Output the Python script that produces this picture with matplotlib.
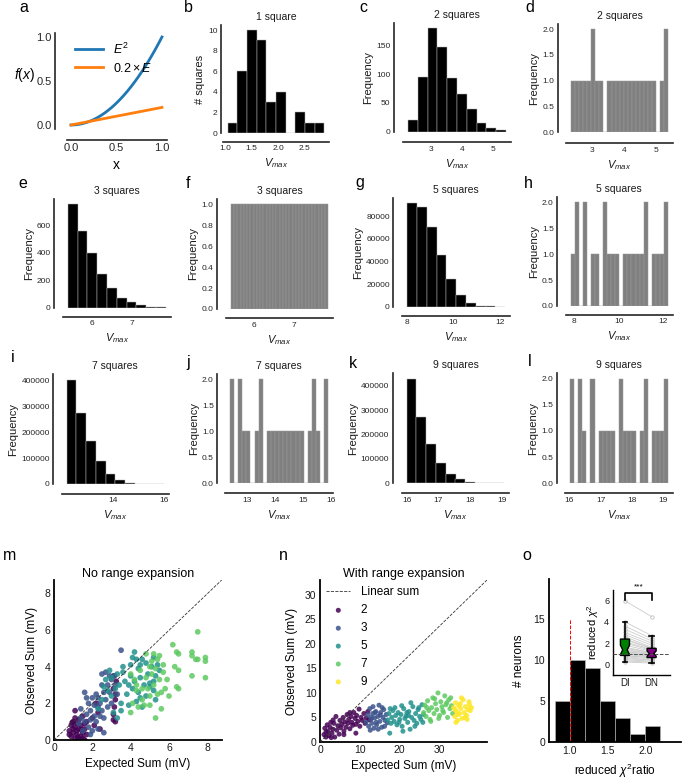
import numpy as np
import matplotlib
matplotlib.use("Agg")
import matplotlib.pyplot as plt
from matplotlib import cm

plt.rcParams['font.family'] = ['Liberation Sans', 'DejaVu Sans']
plt.rcParams['mathtext.fontset'] = 'custom'
plt.rcParams['mathtext.rm'] = 'Liberation Sans'
plt.rcParams['mathtext.it'] = 'Liberation Sans:italic'
plt.rcParams['mathtext.bf'] = 'Liberation Sans:bold'
plt.rcParams['axes.linewidth'] = 1.1

# ---------------- data ----------------
a_E = np.linspace(0, 1, 101)

b_counts = [1, 6, 10, 9, 3, 4, 0, 2, 1, 1]
b_range = (1.056, 2.86)
c_counts = [20, 95, 180, 148, 93, 65, 40, 15, 6, 3]
c_range = (2.26, 5.42)
e_counts = [756, 563, 402, 244, 141, 71, 39, 17, 4, 2]
e_range = (5.39, 7.87)
g_counts = [91200, 88200, 70300, 45300, 24100, 10600, 3500, 900, 200, 30]
g_range = (8.03, 12.2)
i_counts = [405000, 275000, 165000, 89600, 39000, 15600, 4000, 1000, 150, 20]
i_range = (12.2, 16.0)
k_counts = [430000, 274000, 160000, 85000, 40000, 16400, 5000, 1000, 150, 20]
k_range = (16.0, 19.07)

d_counts = [1, 1, 1, 1, 1, 2, 1, 1, 0, 1, 1, 1, 1, 1, 1, 1, 1, 1, 1, 1, 1, 0, 1, 2]
d_range = (2.355, 5.386)
f_counts = [1, 1, 1, 1, 1, 1, 1, 1, 1, 1, 1, 1, 1, 1, 1, 1, 1, 1, 1, 1, 1, 1, 1, 1,
            1, 1, 1, 1, 1, 1]
f_range = (5.42, 7.85)
h_counts = [1, 2, 0, 2, 0, 1, 1, 0, 2, 1, 1, 1, 0, 1, 1, 1, 1, 1, 2, 0, 1, 1, 1, 2]
h_range = (7.85, 12.2)
j_counts = [2, 0, 2, 1, 1, 0, 1, 2, 0, 1, 1, 1, 1, 1, 1, 1, 1, 1, 0, 1, 2, 1, 0, 2]
j_range = (12.37, 15.9)
l_counts = [2, 0, 2, 1, 0, 2, 0, 1, 1, 1, 1, 0, 2, 1, 1, 1, 0, 1, 2, 0, 1, 1, 1, 2]
l_range = (16.02, 19.16)

square_groups = [2, 3, 5, 7, 9]

m_pts_2 = [(0.8, 0.3), (0.8, 0.5), (0.9, 0.8), (0.9, 0.2), (1.0, 1.0), (1.0, 0.6), (1.0, 0.4),
           (1.1, 0.1), (1.1, 0.7), (1.1, 1.2), (1.2, 0.9), (1.2, 0.3), (1.2, 0.5), (1.3, 0.0),
           (1.3, 1.1), (1.3, 0.6), (1.4, 0.2), (1.4, 0.8), (1.5, 0.4), (1.5, 1.3), (1.5, 0.1),
           (1.6, 0.9), (1.6, 0.6), (1.6, 0.0), (1.7, 1.0), (1.7, 0.3), (1.1, 1.6), (0.95, 0.95),
           (1.25, 0.15), (1.45, 0.55), (2.0, 1.2), (2.1, 0.8), (2.2, 2.0), (2.3, 1.5), (2.4, 0.6),
           (3.1, 1.1), (3.1, 1.4), (3.15, 1.8), (3.2, 2.2), (3.2, 2.5), (3.1, 2.8), (3.2, 1.0),
           (3.25, 3.2), (3.15, 3.5)]
m_pts_3 = [(1.3, 0.9), (1.4, 1.2), (1.5, 0.5), (1.6, 1.0), (1.7, 1.4), (1.6, 2.6), (1.7, 2.3),
           (1.8, 2.0), (1.8, 0.7), (1.9, 1.1), (1.9, 1.6), (2.0, 2.3), (2.0, 0.5), (2.1, 1.3),
           (2.1, 1.9), (2.2, 2.5), (2.2, 1.0), (2.3, 1.8), (2.3, 2.3), (2.4, 1.3), (2.4, 2.0),
           (2.5, 3.0), (2.5, 1.6), (2.5, 3.6), (2.6, 2.6), (2.6, 1.2), (2.7, 3.7), (2.7, 2.2),
           (2.8, 3.0), (2.8, 1.8), (2.9, 3.5), (2.9, 2.6), (3.0, 3.3), (3.0, 2.0), (3.1, 3.5),
           (3.2, 3.0), (3.3, 2.5), (3.5, 4.9), (1.4, 1.7), (1.9, 0.3), (2.3, 0.6), (2.6, 0.4)]
m_pts_5 = [(2.3, 1.7), (2.5, 2.2), (2.6, 2.9), (2.7, 3.3), (2.8, 2.7), (3.0, 3.4), (3.0, 2.4),
           (3.2, 2.8), (3.3, 3.6), (3.4, 3.0), (3.5, 2.0), (3.5, 1.6), (3.6, 3.7), (3.7, 3.2),
           (3.8, 2.5), (3.9, 3.0), (3.9, 1.9), (4.0, 4.1), (4.0, 3.5), (4.1, 2.8), (4.2, 4.8),
           (4.2, 3.2), (4.3, 2.1), (4.3, 4.4), (4.4, 3.9), (4.4, 2.6), (4.5, 4.1), (4.5, 3.4),
           (4.6, 4.4), (4.6, 1.8), (4.7, 3.0), (4.8, 4.2), (4.8, 2.4), (4.9, 3.6), (5.0, 3.1),
           (5.1, 4.0), (5.2, 4.5), (5.2, 2.7), (5.3, 3.5), (5.3, 2.2), (5.4, 4.1), (5.5, 3.8),
           (3.1, 1.5), (3.6, 4.0), (4.1, 4.5), (5.0, 2.9), (3.3, 1.2), (2.9, 3.8), (4.5, 2.3),
           (5.2, 3.2)]
m_pts_7 = [(4.0, 1.5), (4.1, 2.0), (4.2, 3.3), (4.3, 2.7), (4.4, 1.8), (4.5, 3.8), (4.6, 2.2),
           (4.7, 1.9), (4.8, 4.7), (4.8, 3.4), (4.9, 2.8), (5.0, 4.0), (5.0, 1.9), (5.1, 3.6),
           (5.1, 4.3), (5.2, 4.7), (5.2, 3.0), (5.3, 1.2), (5.3, 3.9), (5.4, 2.5), (5.4, 4.4),
           (5.5, 3.3), (5.6, 1.7), (5.6, 2.6), (5.7, 4.1), (5.7, 3.7), (5.8, 2.8), (5.9, 3.3),
           (6.0, 2.4), (6.2, 5.2), (6.3, 4.0), (6.4, 4.8), (6.5, 3.8), (6.5, 2.8), (6.5, 4.7),
           (6.4, 2.9), (7.2, 4.8), (7.2, 4.6), (7.2, 3.5), (7.5, 4.4), (7.5, 5.9), (7.9, 4.5),
           (7.9, 4.3), (7.9, 3.4), (7.4, 4.4), (4.0, 3.6), (4.3, 3.0), (5.0, 2.4), (5.5, 4.6),
           (4.6, 2.8)]

n_pts_2 = [(1.0, 1.5), (1.2, 2.8), (1.5, 1.0), (1.8, 3.5), (2.0, 2.2), (2.2, 1.3), (2.5, 3.0),
           (2.7, 4.0), (3.0, 1.8), (3.2, 2.6), (3.5, 3.8), (3.7, 1.0), (4.0, 5.2), (4.2, 2.4),
           (4.5, 3.3), (4.8, 1.6), (5.0, 4.4), (5.2, 2.9), (5.5, 3.6), (5.8, 5.0), (6.0, 2.2),
           (6.2, 4.1), (6.5, 3.0), (6.8, 5.6), (7.0, 3.8), (7.2, 4.6), (7.5, 2.7), (7.8, 5.2),
           (8.0, 4.0), (8.2, 3.4), (8.5, 6.0), (8.8, 4.8), (9.0, 3.6), (9.2, 5.4), (9.5, 4.2),
           (9.8, 6.7), (10.0, 3.2), (10.3, 5.0), (10.6, 4.4), (11.0, 5.8), (11.3, 3.8),
           (11.6, 4.9), (12.0, 6.2), (12.3, 4.5), (1.5, 2.0), (2.8, 0.9), (3.3, 4.5), (6.0, 1.5),
           (7.5, 6.0), (9.0, 1.8)]
n_pts_3 = [(11.5, 4.0), (12.0, 5.5), (12.2, 3.2), (12.5, 6.8), (12.8, 4.6), (13.0, 3.8),
           (13.2, 5.8), (13.5, 2.8), (13.7, 4.9), (14.0, 6.2), (14.2, 3.5), (14.5, 5.2),
           (14.8, 7.5), (15.0, 4.2), (15.2, 6.0), (15.5, 3.0), (15.8, 5.0), (16.0, 6.6),
           (16.3, 4.4), (16.6, 5.6), (16.9, 3.9), (13.3, 7.2), (14.6, 2.6), (15.6, 7.0),
           (12.6, 2.4), (14.1, 4.0), (16.2, 3.2), (13.8, 6.0), (15.1, 5.5), (12.9, 5.0)]
n_pts_5 = [(17.0, 4.5), (17.3, 5.8), (17.5, 1.8), (17.8, 3.8), (18.0, 5.0), (18.3, 6.4),
           (18.6, 4.2), (19.0, 5.4), (19.3, 3.5), (19.6, 6.0), (20.0, 4.6), (20.3, 5.6),
           (20.6, 3.2), (21.0, 6.8), (21.3, 4.8), (21.6, 5.3), (22.0, 4.0), (22.3, 6.2),
           (22.6, 2.6), (23.0, 5.0), (23.3, 7.2), (23.6, 4.4), (24.0, 5.8), (24.3, 3.8),
           (24.6, 6.6), (25.0, 5.2), (25.3, 4.6), (25.6, 7.6), (26.0, 5.6), (18.8, 7.0),
           (20.8, 2.2), (22.8, 8.0), (19.8, 4.0), (21.8, 6.0), (23.8, 3.2), (24.8, 7.0),
           (17.6, 6.8), (20.5, 7.4), (25.8, 4.0), (22.2, 5.4)]
n_pts_7 = [(26.0, 6.0), (26.3, 7.5), (26.6, 5.2), (27.0, 8.4), (27.3, 6.4), (27.6, 4.6),
           (28.0, 7.0), (28.3, 9.0), (28.6, 5.8), (29.0, 7.8), (29.3, 6.6), (29.6, 10.0),
           (30.0, 5.4), (30.3, 8.2), (30.6, 7.2), (31.0, 6.0), (31.3, 9.4), (31.6, 7.6),
           (32.0, 5.0), (32.3, 8.6), (32.6, 6.8), (33.0, 7.4), (33.3, 5.8), (27.8, 4.2),
           (29.8, 4.8), (31.8, 8.0), (28.8, 8.8), (30.8, 6.4), (26.8, 7.0), (32.8, 9.0)]
n_pts_9 = [(33.5, 7.0), (33.8, 5.2), (34.0, 8.0), (34.2, 6.2), (34.5, 4.4), (34.8, 7.4),
           (35.0, 5.8), (35.3, 6.8), (35.6, 4.8), (35.9, 8.6), (36.2, 6.0), (36.5, 7.2),
           (36.8, 5.4), (37.1, 6.6), (37.4, 8.2), (37.7, 6.4), (38.0, 7.0), (34.1, 4.0),
           (35.5, 9.0), (36.9, 4.6), (33.9, 6.6), (35.2, 7.8), (36.4, 5.0), (37.5, 7.6),
           (34.6, 5.6)]

o_edges = [0.8, 1.0, 1.2, 1.4, 1.6, 1.8, 2.0, 2.2]
o_counts = [5, 10, 9, 5, 3, 1, 2]

di_vals = [0.2, 0.3, 0.4, 0.5, 0.6, 0.7, 0.8, 0.8, 0.9, 1.0, 1.0, 1.1, 1.2, 1.2, 1.3, 1.4,
           1.5, 1.6, 1.8, 2.0, 2.1, 2.3, 2.4, 2.6, 2.8, 3.0, 3.3, 3.6, 4.0, 6.0]
dn_vals = [0.1, 0.2, 0.3, 0.4, 0.4, 0.5, 0.6, 0.6, 0.7, 0.7, 0.8, 0.8, 0.9, 0.9, 1.0, 1.0,
           1.1, 1.1, 1.2, 1.3, 1.4, 1.5, 1.5, 1.6, 1.8, 2.0, 2.2, 2.4, 2.7, 4.5]

# ---------------- figure ----------------
W, H = 687, 780
fig = plt.figure(figsize=(W / 100, H / 100), dpi=100)
PT = 0.72  # px -> pt


def add_ax(x0, y0, x1, y1):
    return fig.add_axes([x0 / W, 1 - y1 / H, (x1 - x0) / W, (y1 - y0) / H])


def style_top(ax, loff=9, boff=10, lsize=6):
    for s in ['top', 'right']:
        ax.spines[s].set_visible(False)
    for s in ['left', 'bottom']:
        ax.spines[s].set_color('0.15')
        ax.spines[s].set_linewidth(1.2)
    ax.spines['left'].set_position(('outward', loff * PT))
    ax.spines['bottom'].set_position(('outward', boff * PT))
    ax.tick_params(length=0, labelsize=lsize, colors='0.15', pad=2.5)


def black_hist(ax, counts, rng):
    edges = np.linspace(rng[0], rng[1], len(counts) + 1)
    ax.hist(edges[:-1], bins=edges, weights=counts, color='black',
            edgecolor='0.7', linewidth=0.35)


def gray_hist(ax, counts, rng):
    edges = np.linspace(rng[0], rng[1], len(counts) + 1)
    ax.hist(edges[:-1], bins=edges, weights=counts, color='#808080',
            edgecolor='#999999', linewidth=0.35)


def labels(ax, title, ylabel='Frequency'):
    ax.set_title(title, fontsize=7.5, pad=3.5, color='0.1')
    ax.set_xlabel('$V_{max}$', fontsize=8, labelpad=3, color='0.1')
    ax.set_ylabel(ylabel, fontsize=8, labelpad=2, color='0.1')


# panel a
ax = add_ax(66.5, 32.6, 166.5, 129.4)
style_top(ax, loff=11.5, boff=10.6, lsize=8)
ax.plot(a_E, a_E ** 2, color='#1f77b4', lw=2, label='$E^2$')
ax.plot(a_E, 0.2 * a_E, color='#ff7f0e', lw=2, label=r'$0.2 \times E$')
ax.set_xticks([0, 0.5, 1.0])
ax.set_yticks([0, 0.5, 1.0])
ax.legend(loc='upper left', frameon=False, fontsize=9, handlelength=2.2,
          borderaxespad=0.3, labelspacing=0.4)
ax.set_xlabel('x', fontsize=10, labelpad=3)
ax.set_ylabel('$f(x)$', fontsize=10, rotation=0, ha='right', va='center')
ax.yaxis.set_label_coords(-0.31, 0.56)

# panel b
ax = add_ax(223, 25, 329, 133)
style_top(ax, loff=2, boff=9)
black_hist(ax, b_counts, b_range)
ax.set_xticks([1.0, 1.5, 2.0, 2.5])
ax.set_yticks([0, 2, 4, 6, 8, 10])
labels(ax, '1 square', '# squares')

# panel c
ax = add_ax(403, 23, 511, 131.7)
style_top(ax, boff=10.6)
black_hist(ax, c_counts, c_range)
ax.set_xticks([3, 4, 5])
ax.set_yticks([0, 50, 100, 150])
labels(ax, '2 squares')

# panel d
ax = add_ax(566, 24, 673.3, 132.3)
style_top(ax, loff=8.5, boff=11)
gray_hist(ax, d_counts, d_range)
ax.set_xticks([3, 4, 5])
ax.set_yticks([0, 0.5, 1.0, 1.5, 2.0])
labels(ax, '2 squares')

# panel e
ax = add_ax(63, 199, 170.7, 307.7)
style_top(ax, boff=9)
black_hist(ax, e_counts, e_range)
ax.set_xticks([6, 7])
ax.set_yticks([0, 200, 400, 600])
labels(ax, '3 squares')

# panel f
ax = add_ax(226, 199, 333.3, 309)
style_top(ax, loff=9.3, boff=9.3)
gray_hist(ax, f_counts, f_range)
ax.set_xticks([6, 7])
ax.set_yticks([0, 0.2, 0.4, 0.6, 0.8, 1.0])
labels(ax, '3 squares')

# panel g
ax = add_ax(402.3, 198.3, 510, 306.7)
style_top(ax, boff=9.3)
black_hist(ax, g_counts, g_range)
ax.set_xticks([8, 10, 12])
ax.set_yticks([0, 20000, 40000, 60000, 80000])
labels(ax, '5 squares')

# panel h
ax = add_ax(566, 197.3, 672.7, 306)
style_top(ax, loff=8.7, boff=9)
gray_hist(ax, h_counts, h_range)
ax.set_xticks([8, 10, 12])
ax.set_yticks([0, 0.5, 1.0, 1.5, 2.0])
labels(ax, '5 squares')

# panel i
ax = add_ax(61.7, 374.3, 169, 484)
style_top(ax, loff=8.4)
black_hist(ax, i_counts, i_range)
ax.set_xticks([14, 16])
ax.set_yticks([0, 100000, 200000, 300000, 400000])
labels(ax, '7 squares')

# panel j
ax = add_ax(225, 374.3, 333.3, 483.3)
style_top(ax, loff=7.7)
gray_hist(ax, j_counts, j_range)
ax.set_xticks([13, 14, 15, 16])
ax.set_yticks([0, 0.5, 1.0, 1.5, 2.0])
labels(ax, '7 squares')

# panel k
ax = add_ax(401.7, 373.3, 509.3, 483.3)
style_top(ax)
black_hist(ax, k_counts, k_range)
ax.set_xticks([16, 17, 18, 19])
ax.set_yticks([0, 100000, 200000, 300000, 400000])
labels(ax, '9 squares')

# panel l
ax = add_ax(565, 373.3, 673.3, 483.3)
style_top(ax, loff=8.3)
gray_hist(ax, l_counts, l_range)
ax.set_xticks([16, 17, 18, 19])
ax.set_yticks([0, 0.5, 1.0, 1.5, 2.0])
labels(ax, '9 squares')

# bottom row styling
colors = cm.viridis(np.linspace(0, 1, len(square_groups)))


def style_bottom(ax, lsize=7.5):
    for s in ['top', 'right']:
        ax.spines[s].set_visible(False)
    for s in ['left', 'bottom']:
        ax.spines[s].set_color('black')
        ax.spines[s].set_linewidth(1.3)
    ax.tick_params(length=0, labelsize=lsize, colors='0.1', pad=2.5)


# panel m
ax = add_ax(54, 580, 221.7, 740)
style_bottom(ax)
for pts, col in zip([m_pts_2, m_pts_3, m_pts_5, m_pts_7], colors[:4]):
    xs, ys = zip(*pts)
    ax.scatter(xs, ys, s=17, color=col, alpha=0.85, edgecolors='none', zorder=2)
ax.plot([0, 1], [0, 1], transform=ax.transAxes, ls='--', color='0.2', lw=0.6, zorder=3)
ax.set_xlim(0, 8.75)
ax.set_ylim(0, 8.73)
ax.set_xticks([0, 2, 4, 6, 8])
ax.set_yticks([0, 2, 4, 6, 8])
ax.set_title('No range expansion', fontsize=9, pad=1.5)
ax.set_xlabel('Expected Sum (mV)', fontsize=8.5, labelpad=3)
ax.set_ylabel('Observed Sum (mV)', fontsize=8.5, labelpad=5)

# panel n
ax = add_ax(320, 580, 487, 742)
style_bottom(ax)
ax.plot([0, 1], [0, 1], transform=ax.transAxes, ls='--', color='0.2', lw=0.6,
        zorder=3, label='Linear sum')
for pts, col, g in zip([n_pts_2, n_pts_3, n_pts_5, n_pts_7, n_pts_9], colors, square_groups):
    xs, ys = zip(*pts)
    ax.scatter(xs, ys, s=13, color=col, alpha=0.85, edgecolors='none', zorder=2, label=str(g))
ax.set_xlim(0, 41.9)
ax.set_ylim(0, 33)
ax.set_xticks([0, 10, 20, 30])
ax.set_yticks([0, 5, 10, 15, 20, 25, 30])
ax.set_title('With range expansion', fontsize=9, pad=1.5)
ax.set_xlabel('Expected Sum (mV)', fontsize=8.5, labelpad=3)
ax.set_ylabel('Observed Sum (mV)', fontsize=8.5, labelpad=5)
ax.legend(loc='upper left', frameon=False, fontsize=8.5, borderaxespad=0.15,
          handlelength=2.0, handletextpad=0.9, labelspacing=0.5, scatterpoints=1)

# panel o
ax = add_ax(548.5, 579.3, 681.5, 742.3)
style_bottom(ax)
ax.hist(o_edges[:-1], bins=o_edges, weights=o_counts, color='black',
        edgecolor='0.75', linewidth=0.4)
ax.vlines(1.0, 0, 15, colors='red', linestyles='--', lw=0.7)
ax.set_xlim(0.72, 2.48)
ax.set_ylim(0, 19.8)
ax.set_xticks([1.0, 1.5, 2.0])
ax.set_yticks([0, 5, 10, 15])
ax.set_xlabel(r'reduced $\chi^2$ratio', fontsize=8.5, labelpad=4)
ax.set_ylabel('# neurons', fontsize=8.5, labelpad=6)

# inset
ax = add_ax(612.7, 589.7, 670, 674.7)
style_bottom(ax, lsize=6.5)
ax.spines['left'].set_linewidth(1.0)
ax.spines['bottom'].set_linewidth(1.0)
for a_v, b_v in zip(di_vals, dn_vals):
    ax.plot([0, 1], [a_v, b_v], color='0.8', lw=0.6, marker='o', ms=2.5,
            mfc='none', mec='0.75', mew=0.6, zorder=1)
bp = ax.boxplot([di_vals, dn_vals], positions=[0, 1], notch=True, patch_artist=True,
                widths=0.34, showfliers=False,
                boxprops=dict(edgecolor='black', linewidth=1.0),
                whiskerprops=dict(color='black', linewidth=1.2),
                capprops=dict(color='black', linewidth=1.2),
                medianprops=dict(color='black', linewidth=0.8))
for patch, col in zip(bp['boxes'], ['green', 'purple']):
    patch.set_facecolor(col)
    patch.set_zorder(3)
ax.axhline(1.0, ls='--', color='0.3', lw=0.7, zorder=4)
ax.plot([0, 0, 1, 1], [6.1, 6.7, 6.7, 6.1], color='black', lw=1.2, clip_on=False)
ax.text(0.5, 6.95, '***', ha='center', va='bottom', fontsize=6, clip_on=False)
ax.set_xlim(-0.46, 1.69)
ax.set_ylim(-1.0, 7.05)
ax.set_xticks([0, 1])
ax.set_xticklabels(['DI', 'DN'], fontsize=7)
ax.set_yticks([0, 2, 4, 6])
ax.set_ylabel(r'reduced $\chi^2$', fontsize=8, labelpad=2)

# panel letters
letters = ['a', 'b', 'c', 'd', 'e', 'f', 'g', 'h', 'i', 'j', 'k', 'l', 'm', 'n', 'o']
letter_pos = [(24, 8), (188, 7), (363, 7), (530, 7), (23, 183), (188, 183), (360, 183),
              (528, 183), (13, 358), (188, 362), (353, 363), (530, 362), (10, 555),
              (283, 555), (527, 555)]
for t, (x, y) in zip(letters, letter_pos):
    fig.text(x / W, 1 - y / H, t, fontsize=11.5, ha='center', va='center')

fig.savefig('out.png', dpi=100)
